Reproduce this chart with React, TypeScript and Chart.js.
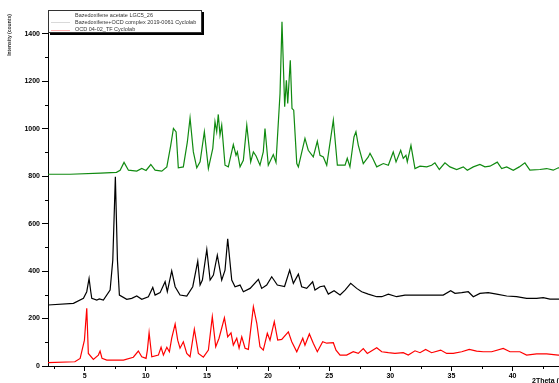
import React, { useEffect, useRef } from "react";
import { Chart, registerables } from "chart.js";

Chart.register(...registerables);

// 2Theta (deg), intensity (counts)
const complexPattern: [number, number][] = [
  [2.0, 808], [3.8, 808], [6.3, 813], [7.6, 816], [7.9, 825], [8.22, 858], [8.58, 825], [9.26, 821],
  [9.67, 832], [10.02, 824], [10.41, 849], [10.76, 825], [11.31, 821], [11.72, 839], [12.04, 930],
  [12.26, 1001], [12.48, 986], [12.66, 835], [13.07, 839], [13.4, 944], [13.62, 1045], [13.89, 902],
  [14.17, 835], [14.44, 860], [14.79, 987], [15.12, 832], [15.48, 917], [15.66, 1029], [15.8, 987],
  [15.93, 1060], [16.07, 973], [16.21, 1015], [16.48, 846], [16.75, 839], [17.16, 933], [17.38, 888],
  [17.49, 902], [17.71, 839], [17.98, 867], [18.26, 1015], [18.58, 860], [18.8, 902], [19.02, 885],
  [19.34, 846], [19.61, 902], [19.75, 1001], [20.02, 846], [20.43, 891], [20.65, 858], [20.98, 1148],
  [21.14, 1450], [21.36, 1092], [21.5, 1204], [21.61, 1106], [21.82, 1288], [21.96, 1085], [22.1, 1078],
  [22.35, 853], [22.48, 839], [23.02, 959], [23.29, 909], [23.7, 881], [24.03, 947], [24.25, 888],
  [24.52, 881], [24.8, 846], [25.34, 1036], [25.67, 846], [26.3, 846], [26.48, 875], [26.7, 839],
  [27.03, 965], [27.19, 987], [27.38, 931], [27.79, 853], [28.2, 881], [28.34, 896], [28.56, 875],
  [28.89, 839], [29.43, 853], [29.84, 846], [30.24, 902], [30.47, 860], [30.85, 909], [31.06, 875],
  [31.28, 888], [31.39, 860], [31.69, 930], [32.02, 832], [32.43, 842], [32.98, 839], [33.38, 846],
  [33.65, 856], [34.01, 828], [34.47, 856], [34.88, 839], [35.43, 828], [35.97, 839], [36.3, 825],
  [36.79, 839], [37.33, 849], [37.74, 839], [38.15, 842], [38.75, 859], [39.11, 832], [39.52, 839],
  [40.06, 825], [40.55, 839], [41.01, 856], [41.42, 825], [42.24, 828], [42.79, 832], [43.33, 825],
  [43.74, 835], [44.2, 830],
];

const acetatePattern: [number, number][] = [
  [2.0, 257], [4.08, 264], [4.9, 285], [5.17, 313], [5.36, 369], [5.5, 313], [5.58, 285], [5.99, 278],
  [6.2, 283], [6.53, 278], [7.08, 320], [7.3, 446], [7.51, 797], [7.68, 446], [7.84, 299], [8.44, 281],
  [8.85, 285], [9.26, 295], [9.67, 281], [10.21, 292], [10.57, 331], [10.76, 299], [11.17, 309],
  [11.58, 355], [11.76, 313], [12.12, 401], [12.4, 334], [12.8, 299], [13.35, 295], [13.84, 334],
  [14.25, 442], [14.44, 341], [14.63, 362], [14.99, 491], [15.26, 362], [15.53, 383], [15.85, 467],
  [16.21, 362], [16.48, 404], [16.7, 536], [17.03, 362], [17.3, 334], [17.71, 341], [17.98, 313],
  [18.53, 327], [19.21, 365], [19.48, 327], [19.89, 341], [20.3, 376], [20.76, 341], [21.35, 335],
  [21.77, 404], [22.07, 348], [22.48, 387], [22.75, 334], [23.16, 327], [23.65, 355], [23.84, 320],
  [24.25, 334], [24.6, 337], [24.93, 303], [25.4, 317], [25.89, 299], [26.3, 320], [26.76, 348],
  [27.25, 327], [27.66, 313], [28.2, 303], [28.89, 292], [29.3, 292], [29.84, 303], [30.52, 292],
  [31.2, 299], [31.88, 299], [32.57, 299], [33.52, 299], [34.33, 299], [34.94, 317], [35.29, 306],
  [35.84, 309], [36.38, 313], [36.79, 292], [37.33, 306], [38.01, 309], [38.7, 303], [39.52, 295],
  [40.33, 292], [41.15, 285], [41.97, 285], [42.51, 288], [43.06, 282], [43.74, 282], [44.2, 282],
];

const ocdPattern: [number, number][] = [
  [2.0, 14], [4.2, 18], [4.63, 32], [4.98, 109], [5.17, 243], [5.3, 53], [5.71, 28], [6.12, 46], [6.26, 63],
  [6.42, 32], [6.81, 25], [8.17, 25], [8.98, 37], [9.39, 63], [9.67, 39], [10.02, 32], [10.13, 67],
  [10.27, 140], [10.49, 39], [11.03, 46], [11.25, 79], [11.44, 46], [11.72, 79], [11.93, 60],
  [12.12, 117], [12.4, 177], [12.61, 109], [12.8, 75], [13.07, 102], [13.35, 53], [13.62, 39],
  [13.97, 155], [14.3, 53], [14.71, 37], [15.12, 67], [15.44, 208], [15.72, 81], [15.99, 117],
  [16.43, 203], [16.7, 123], [16.97, 140], [17.16, 88], [17.44, 117], [17.63, 75], [17.85, 123],
  [18.12, 75], [18.39, 70], [18.8, 250], [19.08, 180], [19.34, 81], [19.61, 67], [19.94, 138],
  [20.16, 109], [20.51, 187], [20.79, 109], [21.12, 112], [21.66, 144], [21.94, 102], [22.35, 60],
  [22.84, 117], [23.02, 88], [23.38, 135], [23.7, 96], [24.03, 60], [24.47, 102], [24.8, 96],
  [25.34, 98], [25.56, 67], [25.89, 46], [26.43, 46], [26.97, 60], [27.38, 53], [27.79, 73],
  [28.12, 53], [28.89, 77], [29.3, 60], [29.84, 56], [30.38, 53], [31.06, 56], [31.47, 46],
  [32.02, 64], [32.43, 56], [32.89, 70], [33.38, 56], [34.12, 67], [34.61, 53], [35.15, 53],
  [35.84, 60], [36.46, 70], [37.06, 63], [37.6, 60], [38.29, 60], [39.24, 74], [39.79, 60],
  [40.6, 60], [41.15, 46], [41.97, 51], [42.79, 51], [43.74, 46], [44.2, 46],
];

const xMajorTicks = [5, 10, 15, 20, 25, 30, 35, 40];
const xMinorTicks = [2.5, 7.5, 12.5, 17.5, 22.5, 27.5, 32.5, 37.5, 42.5];
const yMajorTicks = [0, 200, 400, 600, 800, 1000, 1200, 1400];
const yMinorTicks = [100, 300, 500, 700, 900, 1100, 1300];

const legendLabels = [
  "Bazedoxifene acetate LGC5_26",
  "Bazedoxifene+OCD complex 2019-0061 Cyclolab",
  "OCD 04-02_TF Cyclolab",
];
const legendSwatches = ["#ffffff", "#d9d9d9", "#ffb0b0"];
const xTitle = "2Theta (°)";
const yTitle = "Intensity (counts)";

const FONT = "'Liberation Sans', Arial, sans-serif";

const decorPlugin = {
  id: "decor",
  afterDraw(chart: any) {
    const { ctx, chartArea, scales } = chart;
    const xs = scales.x;
    const ys = scales.y;
    ctx.save();
    ctx.strokeStyle = "#000";
    ctx.lineWidth = 1;
    ctx.beginPath();
    for (const v of xMinorTicks) {
      const p = Math.round(xs.getPixelForValue(v)) + 0.5;
      if (p < chartArea.left || p > chartArea.right) continue;
      ctx.moveTo(p, chartArea.bottom);
      ctx.lineTo(p, chartArea.bottom + 3);
    }
    for (const v of yMinorTicks) {
      const p = Math.round(ys.getPixelForValue(v)) + 0.5;
      ctx.moveTo(chartArea.left - 3, p);
      ctx.lineTo(chartArea.left, p);
    }
    ctx.stroke();

    // legend box with shadow
    const bx = 48, by = 10, bw = 154, bh = 23;
    ctx.fillStyle = "#000";
    ctx.fillRect(bx + 2, by + 2, bw, bh);
    ctx.fillStyle = "#fff";
    ctx.fillRect(bx, by, bw, bh);
    ctx.strokeStyle = "#333";
    ctx.strokeRect(bx + 0.5, by + 0.5, bw - 1, bh - 1);
    ctx.font = `5.5px ${FONT}`;
    ctx.textBaseline = "middle";
    ctx.textAlign = "left";
    legendLabels.forEach((label, i) => {
      const yy = by + 5 + i * 7.3;
      ctx.strokeStyle = legendSwatches[i];
      ctx.lineWidth = 1;
      ctx.beginPath();
      ctx.moveTo(bx + 3, Math.round(yy) + 0.5);
      ctx.lineTo(bx + 22, Math.round(yy) + 0.5);
      ctx.stroke();
      ctx.fillStyle = "#333";
      ctx.fillText(label, bx + 27, yy);
    });

    // axis titles
    ctx.fillStyle = "#000";
    ctx.font = `bold 7px ${FONT}`;
    ctx.textBaseline = "top";
    ctx.textAlign = "left";
    ctx.fillText(xTitle, 532, 378);

    ctx.save();
    ctx.translate(10, 35);
    ctx.rotate(-Math.PI / 2);
    ctx.font = `bold 5px ${FONT}`;
    ctx.fillStyle = "#333";
    ctx.textAlign = "center";
    ctx.textBaseline = "middle";
    ctx.fillText(yTitle, 0, 0);
    ctx.restore();

    ctx.restore();
  },
};

export default function App() {
  const ref = useRef<HTMLCanvasElement | null>(null);
  useEffect(() => {
    if (!ref.current) return;
    const toPts = (arr: [number, number][]) => arr.map(([x, y]) => ({ x, y }));
    const chart = new Chart(ref.current, {
      type: "line",
      data: {
        datasets: [
          { data: toPts(complexPattern), borderColor: "#108a10", borderWidth: 1.2, pointRadius: 0, fill: false },
          { data: toPts(acetatePattern), borderColor: "#000000", borderWidth: 1.2, pointRadius: 0, fill: false },
          { data: toPts(ocdPattern), borderColor: "#ff0000", borderWidth: 1.2, pointRadius: 0, fill: false },
        ],
      },
      options: {
        animation: false,
        responsive: false,
        maintainAspectRatio: false,
        parsing: false,
        layout: { padding: { top: 10, left: 0, right: 0, bottom: 0 } },
        plugins: { legend: { display: false }, tooltip: { enabled: false } },
        elements: { line: { tension: 0 }, point: { radius: 0 } },
        scales: {
          x: {
            type: "linear",
            min: 2.0,
            max: 43.8,
            afterFit: (s: any) => { s.height = 17; },
            afterBuildTicks: (s: any) => { s.ticks = xMajorTicks.map((v) => ({ value: v })); },
            grid: { display: true, drawOnChartArea: false, drawTicks: true, tickLength: 5, color: "#000", tickWidth: 1 },
            border: { display: true, color: "#000", width: 1 },
            ticks: { padding: 1, autoSkip: false, maxRotation: 0, color: "#000", callback: (v: any) => String(v), font: { family: FONT, size: 7, weight: "bold" } },
          },
          y: {
            type: "linear",
            min: 0,
            max: 1500,
            afterFit: (s: any) => { s.width = 48; },
            afterBuildTicks: (s: any) => { s.ticks = yMajorTicks.map((v) => ({ value: v })); },
            grid: { display: true, drawOnChartArea: false, drawTicks: true, tickLength: 6, color: "#000", tickWidth: 1 },
            border: { display: true, color: "#000", width: 1 },
            ticks: { padding: 2, color: "#000", callback: (v: any) => String(v), font: { family: FONT, size: 7, weight: "bold" } },
          },
        },
      },
      plugins: [decorPlugin],
    } as any);
    return () => chart.destroy();
  }, []);
  return (
    <>
      <style>{`html,body{margin:0;padding:0;overflow:hidden;background:#fff}`}</style>
      <canvas ref={ref} width={559} height={383} style={{ display: "block", width: 559, height: 383 }} />
    </>
  );
}
